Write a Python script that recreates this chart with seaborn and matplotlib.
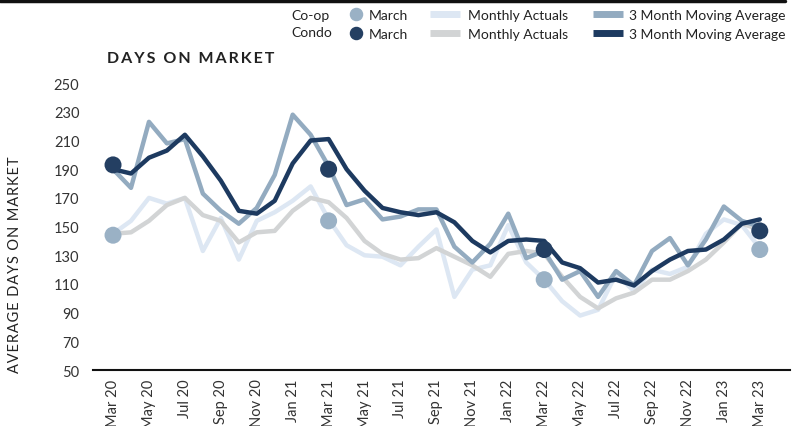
import numpy as np
import pandas as pd
import matplotlib
matplotlib.use("Agg")
import matplotlib.pyplot as plt
import seaborn as sns
from matplotlib.lines import Line2D

# months Mar 20 .. Mar 23
months = ["Mar 20", "Apr 20", "May 20", "Jun 20", "Jul 20", "Aug 20", "Sep 20", "Oct 20", "Nov 20", "Dec 20",
          "Jan 21", "Feb 21", "Mar 21", "Apr 21", "May 21", "Jun 21", "Jul 21", "Aug 21", "Sep 21", "Oct 21",
          "Nov 21", "Dec 21", "Jan 22", "Feb 22", "Mar 22", "Apr 22", "May 22", "Jun 22", "Jul 22", "Aug 22",
          "Sep 22", "Oct 22", "Nov 22", "Dec 22", "Jan 23", "Feb 23", "Mar 23"]

coop_actual = [145, 154, 170, 166, 170, 133, 156, 127, 154, 160,
               168, 178, 155, 137, 130, 129, 123, 136, 148, 101,
               120, 123, 151, 125, 113, 98, 88, 92, 117, 105,
               120, 117, 122, 145, 155, 151, 135]
condo_actual = [145, 146, 154, 165, 170, 158, 154, 139, 146, 147,
                161, 170, 167, 156, 140, 131, 127, 128, 135, 129,
                123, 115, 131, 133, 131, 115, 101, 93, 100, 104,
                113, 113, 119, 127, 139, 152, 148]
coop_ma = [190, 177, 223, 208, 211, 173, 161, 152, 163, 186,
           228, 214, 192, 165, 169, 155, 157, 162, 162, 136,
           125, 138, 159, 128, 133, 113, 119, 101, 119, 109,
           133, 142, 123, 141, 164, 154, 150]
condo_ma = [190, 187, 198, 203, 214, 199, 182, 161, 159, 168,
            194, 210, 211, 190, 175, 163, 160, 158, 160, 153,
            140, 132, 140, 141, 140, 125, 121, 111, 113, 109,
            119, 127, 133, 134, 141, 152, 155]

march_idx = [0, 12, 24, 36]
coop_march = [144, 154, 113, 134]
condo_march = [193, 190, 134, 147]

c_coop_act = "#dde7f3"
c_condo_act = "#d2d4d5"
c_coop_ma = "#93abc0"
c_condo_ma = "#1d3a60"
c_coop_dot = "#9ab1c5"
c_condo_dot = "#243f62"
txt = "#222222"

sns.set_style("white")
plt.rcParams["font.family"] = ["Lato", "DejaVu Sans"]

x = np.arange(len(months))
df = pd.DataFrame({"x": x, "coop_act": coop_actual, "condo_act": condo_actual,
                   "coop_ma": coop_ma, "condo_ma": condo_ma})
dots = pd.DataFrame({"x": march_idx, "coop": coop_march, "condo": condo_march})

fig = plt.figure(figsize=(8.04, 4.27), dpi=100)
ax = fig.add_axes([0.116, 0.131, 0.867, 0.672])

sns.lineplot(data=df, x="x", y="coop_act", color=c_coop_act, lw=3.2, ax=ax, zorder=2)
sns.lineplot(data=df, x="x", y="condo_act", color=c_condo_act, lw=3.2, ax=ax, zorder=3)
sns.lineplot(data=df, x="x", y="coop_ma", color=c_coop_ma, lw=3.2, ax=ax, zorder=4)
sns.lineplot(data=df, x="x", y="condo_ma", color=c_condo_ma, lw=3.2, ax=ax, zorder=5)
sns.scatterplot(data=dots, x="x", y="coop", color=c_coop_dot, s=150, edgecolor="none", ax=ax, zorder=6)
sns.scatterplot(data=dots, x="x", y="condo", color=c_condo_dot, s=150, edgecolor="none", ax=ax, zorder=7)

ax.set_xlim(-1.1, 37.7)
ax.set_ylim(50, 250)
ax.set_yticks(range(50, 251, 20))
ax.set_xticks(x[::2])
ax.set_xticklabels(months[::2], rotation=90, fontsize=10.5, color="#333333")
ax.tick_params(axis="y", labelsize=10.5, labelcolor="#333333", length=0, pad=10)
ax.tick_params(axis="x", length=0, pad=6)
ax.set_xlabel("")
ax.set_ylabel("\u200a".join("AVERAGE DAYS ON MARKET"), fontsize=10.5, color=txt)
ax.yaxis.set_label_coords(-0.102, 0.37)
for s in ["top", "right", "left"]:
    ax.spines[s].set_visible(False)
ax.spines["bottom"].set_color("#111111")
ax.spines["bottom"].set_linewidth(1.5)
ax.grid(False)

fig.text(0.133, 0.862, "\u2009".join("DAYS ON MARKET"), fontsize=11.5, fontweight="bold",
         color=txt, va="center", ha="left")

# top rule
fig.add_artist(Line2D([0, 0.976], [0.995, 0.995], color="#111111", lw=2.5, transform=fig.transFigure))

# legend, three columns
def patch(c):
    return Line2D([], [], color=c, lw=5, solid_capstyle="butt")

legend_cols = [
    ([Line2D([], [], marker="o", ls="none", color=c_coop_dot, markersize=8.7),
      Line2D([], [], marker="o", ls="none", color=c_condo_dot, markersize=8.7)],
     ["March", "March"], 0.434, 1.0, 0.43),
    ([patch(c_coop_act), patch(c_condo_act)],
     ["Monthly Actuals", "Monthly Actuals"], 0.535, 2.16, 0.58),
    ([patch(c_coop_ma), patch(c_condo_ma)],
     ["3 Month Moving Average", "3 Month Moving Average"], 0.7376, 2.16, 0.43),
]
for hnd, lab, x0, hl, tp in legend_cols:
    leg = fig.legend(hnd, lab, loc="upper left", bbox_to_anchor=(x0, 0.976), frameon=False,
                     fontsize=10, handlelength=hl, handletextpad=tp, labelspacing=0.46,
                     borderpad=0, borderaxespad=0, labelcolor=txt)

fig.text(0.363, 0.963, "Co-op", fontsize=10, color=txt, va="center", ha="left")
fig.text(0.363, 0.922, "Condo", fontsize=10, color=txt, va="center", ha="left")

fig.savefig("out.png", dpi=100)
